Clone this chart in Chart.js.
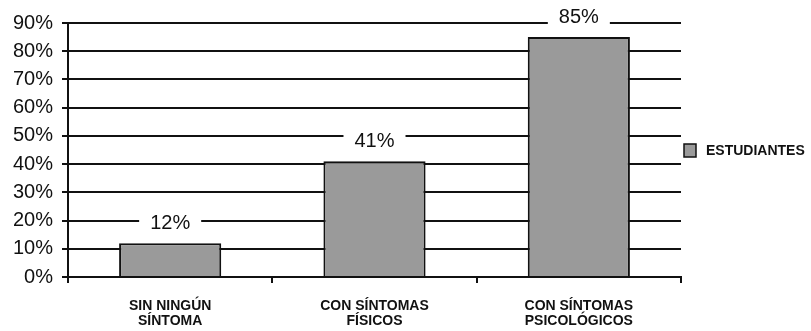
<!DOCTYPE html>
<html>
<head>
<meta charset="utf-8">
<script src="https://cdn.jsdelivr.net/npm/chart.js@4/dist/chart.umd.min.js"></script>
<style>
  html, body { margin: 0; padding: 0; background: #fff; }
  #wrap { width: 811px; height: 331px; }
</style>
</head>
<body>
<div id="wrap"><canvas id="c" width="811" height="331"></canvas></div>
<script>
const categories = [["SIN NINGÚN", "SÍNTOMA"], ["CON SÍNTOMAS", "FÍSICOS"], ["CON SÍNTOMAS", "PSICOLÓGICOS"]];
const seriesName = "ESTUDIANTES";
const estudiantes = [12, 41, 85];
const yTicks = [0, 10, 20, 30, 40, 50, 60, 70, 80, 90];

const barFill = "#9a9a9a";
const ink = "#111111";

// value labels above each bar, on a white box that interrupts the gridlines
const valueLabels = {
  id: "valueLabels",
  afterDatasetsDraw(chart) {
    const ctx = chart.ctx;
    const meta = chart.getDatasetMeta(0);
    ctx.save();
    ctx.font = "20px 'Liberation Sans', Arial, sans-serif";
    ctx.textAlign = "center";
    ctx.textBaseline = "middle";
    meta.data.forEach((bar, i) => {
      const txt = estudiantes[i] + "%";
      const y = bar.y - 21;
      const w = ctx.measureText(txt).width + 22;
      ctx.fillStyle = "#fff";
      ctx.fillRect(bar.x - w / 2, y - 10, w, 20);
      ctx.fillStyle = ink;
      ctx.fillText(txt, bar.x, y + 1);
    });
    ctx.restore();
  }
};

// legend box at the right of the plot
const sideLegend = {
  id: "sideLegend",
  afterDraw(chart) {
    const ctx = chart.ctx;
    const x = chart.chartArea.right + 3;
    const y = 151;
    ctx.save();
    ctx.fillStyle = barFill;
    ctx.strokeStyle = ink;
    ctx.lineWidth = 1.5;
    ctx.fillRect(x, y - 7, 12, 13);
    ctx.strokeRect(x, y - 7, 12, 13);
    ctx.fillStyle = ink;
    ctx.font = "bold 14px 'Liberation Sans', Arial, sans-serif";
    ctx.textBaseline = "middle";
    ctx.textAlign = "left";
    ctx.fillText(chart.data.datasets[0].label, x + 22, y);
    ctx.restore();
  }
};

new Chart(document.getElementById("c"), {
  type: "bar",
  data: {
    labels: categories,
    datasets: [{
      label: seriesName,
      data: estudiantes,
      backgroundColor: barFill,
      borderColor: ink,
      borderWidth: 2,
      categoryPercentage: 1,
      barPercentage: 0.5
    }]
  },
  options: {
    responsive: false,
    animation: false,
    layout: { padding: { top: 23, right: 130, left: 0, bottom: 0 } },
    plugins: { legend: { display: false }, tooltip: { enabled: false } },
    scales: {
      y: {
        min: 0,
        max: 90,
        afterFit(scale) { scale.width = 68; },
        afterBuildTicks(scale) { scale.ticks = yTicks.map(v => ({ value: v })); },
        ticks: {
          callback: v => v + "%",
          color: ink,
          padding: 9,
          font: { family: "'Liberation Sans', Arial, sans-serif", size: 20 }
        },
        grid: { color: ink, lineWidth: 2, tickLength: 6 },
        border: { color: ink, width: 2 }
      },
      x: {
        afterFit(scale) { scale.height = 54; },
        ticks: {
          color: ink,
          padding: 16,
          font: { family: "'Liberation Sans', Arial, sans-serif", size: 14, weight: "bold", lineHeight: 1.05 }
        },
        grid: { offset: true, drawOnChartArea: false, color: ink, lineWidth: 2, tickLength: 6 },
        border: { color: ink, width: 2 }
      }
    }
  },
  plugins: [valueLabels, sideLegend]
});
</script>
</body>
</html>
